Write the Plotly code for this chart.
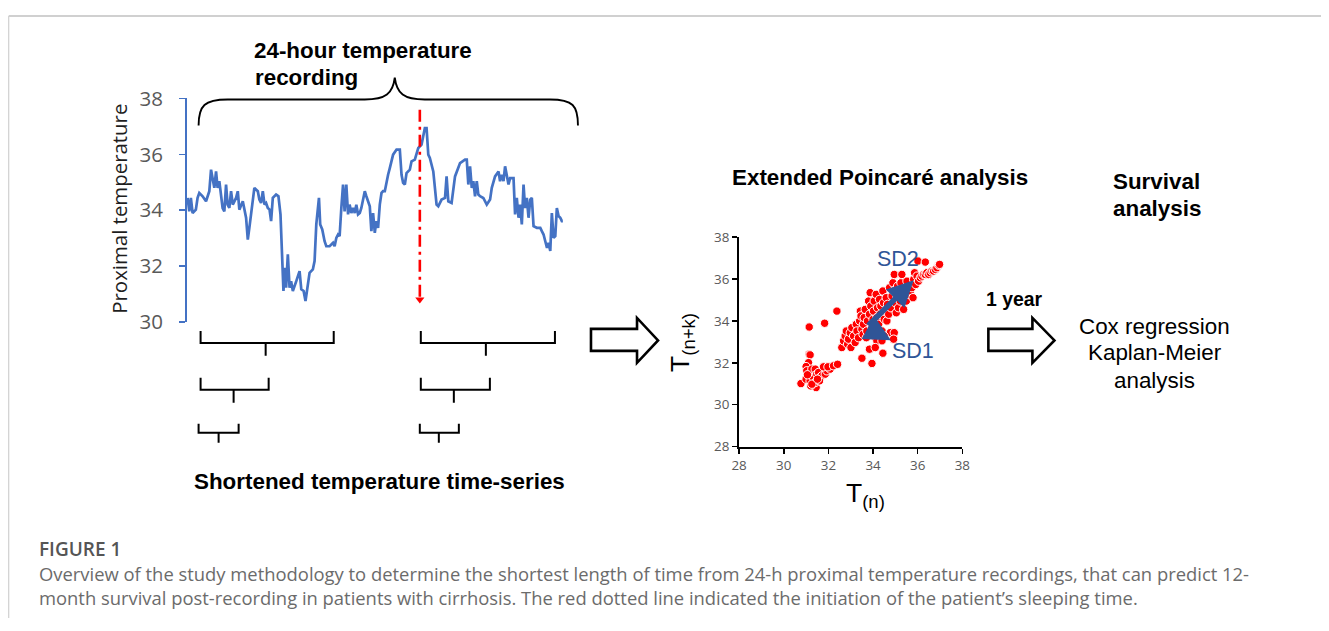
import plotly.graph_objects as go

W, H = 1329, 631
# where the figure's edges land in the captured picture (measured, page margin removed)
CX0, CX1 = 8.6, 1320.3
CY0, CY1 = 13.3, 617.8

# ---------------- 24-hour proximal temperature recording ----------------
hours = [0.00, 0.11, 0.21, 0.32, 0.53, 0.64, 0.75, 0.96, 1.18, 1.39, 1.50, 1.60, 1.71, 1.82, 1.92,
         2.03, 2.14, 2.24, 2.35, 2.46, 2.56, 2.67, 2.78, 2.89, 3.10, 3.21, 3.31, 3.53, 3.74, 3.85,
         3.95, 4.17, 4.27, 4.49, 4.59, 4.70, 4.81, 4.92, 5.02, 5.13, 5.24, 5.34, 5.45, 5.66, 5.81,
         5.94, 6.05, 6.13, 6.22, 6.30, 6.41, 6.52, 6.62, 6.73, 6.95, 7.16, 7.27, 7.42, 7.54, 7.69,
         7.80, 8.01, 8.12, 8.23, 8.33, 8.40, 8.48, 8.61, 8.76, 8.87, 9.08, 9.30, 9.40, 9.51, 9.62,
         9.72, 9.83, 9.94, 10.04, 10.15, 10.26, 10.36, 10.47, 10.58, 10.69, 10.79, 10.90, 11.01,
         11.11, 11.22, 11.33, 11.43, 11.65, 11.75, 11.86, 11.97, 12.07, 12.18, 12.29, 12.40, 12.50,
         12.61, 12.72, 12.82, 12.93, 13.04, 13.14, 13.36, 13.57, 13.68, 13.78, 13.89, 14.00, 14.21,
         14.32, 14.53, 14.75, 14.96, 15.07, 15.17, 15.28, 15.39, 15.49, 15.71, 15.92, 16.03, 16.24,
         16.46, 16.56, 16.67, 16.88, 17.10, 17.42, 17.74, 17.85, 17.95, 18.06, 18.17, 18.27, 18.38,
         18.49, 18.59, 18.70, 18.91, 19.13, 19.34, 19.45, 19.66, 19.88, 19.98, 20.09, 20.20, 20.30,
         20.41, 20.52, 20.62, 20.84, 20.94, 21.05, 21.16, 21.26, 21.37, 21.48, 21.58, 21.69, 21.80,
         21.91, 22.01, 22.12, 22.33, 22.55, 22.65, 22.76, 22.87, 22.98, 23.08, 23.19, 23.29, 23.40,
         23.51, 23.61, 23.72, 23.83, 23.93, 24.00]
temp = [34.44, 33.96, 34.44, 33.90, 34.02, 34.44, 34.62, 34.50, 34.32, 34.68, 35.45, 35.15, 34.80, 35.39, 34.80,
        35.04, 34.56, 34.08, 33.96, 34.92, 34.20, 34.08, 34.68, 34.20, 34.44, 34.68, 34.02, 34.32, 33.73, 32.95,
        33.37, 34.32, 34.80, 34.68, 34.38, 34.26, 34.68, 34.20, 34.26, 34.08, 34.02, 33.61, 34.44, 34.56, 34.50,
        33.85, 32.42, 31.11, 31.94, 31.23, 32.42, 31.23, 31.46, 31.11, 31.46, 31.82, 31.17, 31.11, 30.75, 31.46,
        31.76, 31.88, 32.18, 33.49, 33.96, 34.44, 33.49, 33.31, 32.89, 32.71, 32.71, 32.83, 32.71, 33.01, 33.13,
        33.07, 34.08, 34.92, 33.96, 34.92, 33.85, 34.20, 33.90, 34.08, 33.90, 34.20, 33.85, 33.90,
        34.08, 34.44, 34.68, 34.50, 34.14, 33.25, 33.90, 33.19, 33.61, 33.37, 34.20, 34.62, 34.68,
        34.68, 35.04, 35.27, 35.51, 35.75, 35.99, 36.17, 36.17, 35.27, 34.98, 34.92, 35.33, 35.45,
        35.75, 35.81, 36.23, 36.35, 36.70, 36.94, 36.94, 35.99, 35.87, 35.39, 34.20, 34.14, 34.38,
        34.44, 35.21, 34.32, 34.26, 35.21, 35.69, 35.81, 35.81, 34.92, 35.57, 34.80, 35.04, 34.50,
        35.04, 34.56, 34.50, 34.44, 34.20, 34.38, 34.80, 35.21, 35.39, 35.04, 35.27, 35.04, 35.57,
        35.27, 34.92, 35.15, 35.15, 33.85, 34.44, 33.73, 34.20, 33.49, 34.92, 34.08, 34.44, 33.73,
        34.38, 34.44, 33.43, 33.37, 33.37, 33.25, 33.13, 32.89, 32.65, 32.83, 32.54, 33.90, 33.01,
        33.07, 34.08, 33.79, 33.73, 33.61, 33.61]
sleep_onset_h = 14.85
sleep_marker_temps = [37.60, 30.80]
temp_ticks = [30, 32, 34, 36, 38]

# ---------------- Extended Poincaré plot ----------------
t_n = [30.77, 31.14, 31.14, 31.18, 31.11, 31.00, 31.03, 31.26, 31.41, 31.00, 31.18, 31.33, 31.48, 31.56,
       31.63, 31.71, 31.86, 31.93, 32.08, 31.78, 31.98, 32.23, 32.41, 31.45, 31.21, 31.41, 31.26, 31.60,
       31.06, 31.51, 31.83, 32.38,
       32.60, 32.68, 32.75, 32.80, 32.86, 32.90, 32.98, 33.01, 33.05, 33.13, 33.20, 33.25, 33.28, 33.35,
       33.40, 33.43, 33.46, 33.50, 33.55, 33.57, 33.60, 33.65, 33.70, 33.72, 33.75, 33.80, 33.84, 33.87,
       33.90, 33.95, 34.00, 34.02, 34.05, 34.10, 34.14, 34.17, 34.20, 34.25, 34.29, 34.32, 34.35, 34.40,
       34.44, 34.47, 34.50, 34.55, 34.59, 34.62, 34.65, 34.70, 34.74, 34.77, 34.80, 34.85, 34.89, 34.92,
       34.95, 35.00, 35.04, 35.07, 35.10, 35.14, 35.19, 35.22, 35.25, 35.29, 35.34, 35.37, 35.44, 35.49,
       35.52, 35.59, 35.67, 35.74, 35.79, 35.82, 35.86, 35.91, 35.97, 36.04, 36.12, 36.19, 36.27, 36.34,
       36.41, 36.49, 36.56, 36.64, 36.71, 36.79, 36.86, 36.94, 36.98, 36.01, 36.34,
       33.50, 33.95, 34.44, 33.84, 34.17, 34.50, 34.95, 34.92, 34.10, 34.40]
t_nk = [31.01, 33.71, 32.41, 32.38, 32.01, 31.82, 31.62, 31.70, 31.70, 31.22, 31.14, 31.30, 31.46, 31.54,
        31.30, 31.38, 31.46, 31.62, 31.70, 31.81, 31.81, 31.86, 31.93, 30.82, 30.90, 31.06, 30.98, 31.14,
        31.43, 31.22, 33.89, 34.47,
        32.73, 33.05, 33.28, 33.52, 32.89, 33.13, 33.44, 32.73, 33.68, 33.28, 32.97, 33.84, 33.52, 33.20,
        34.00, 34.47, 34.24, 33.60, 33.36, 33.84, 34.16, 34.55, 33.20, 33.52, 34.00, 34.95, 34.32, 35.35,
        34.71, 33.68, 34.08, 34.47, 34.95, 33.20, 35.27, 34.16, 34.63, 33.84, 35.03, 34.32, 34.71, 33.52,
        35.43, 34.87, 34.08, 34.47, 35.11, 34.00, 34.79, 34.32, 35.59, 33.44, 34.63, 35.19, 35.82, 35.43,
        36.22, 34.87, 34.39, 35.11, 35.66, 34.63, 35.35, 34.95, 35.82, 36.22, 35.27, 34.55, 35.59, 34.95,
        35.90, 35.27, 35.43, 35.59, 35.11, 35.98, 36.30, 35.74, 36.14, 35.90, 36.06, 36.14, 36.22, 36.22,
        36.30, 36.22, 36.30, 36.38, 36.38, 36.46, 36.54, 36.66, 36.70, 36.86, 36.81,
        32.22, 31.97, 32.46, 32.65, 33.05, 33.28, 33.44, 33.13, 32.73, 33.05]
poincare_ticks = [28, 30, 32, 34, 36, 38]
sd_origin = [33.72, 33.71]
sd2_tip = [35.82, 35.94]
sd1_tip = [34.80, 33.08]

# ---------------- Texts ----------------
caption_title = "FIGURE 1"
caption_lines = [
    "Overview of the study methodology to determine the shortest length of time from 24-h proximal temperature recordings, that can predict 12-",
    "month survival post-recording in patients with cirrhosis. The red dotted line indicated the initiation of the patient\u2019s sleeping time.",
]

BLUE = "#4472C4"
SDBLUE = "#2F5597"
ARIAL = "Liberation Sans, Arial, sans-serif"
OPEN = "Open Sans, sans-serif"


def xdom(a, b):
    return [(a - CX0) / (CX1 - CX0), (b - CX0) / (CX1 - CX0)]


def ydom(top, bottom):
    return [1 - (bottom - CY0) / (CY1 - CY0), 1 - (top - CY0) / (CY1 - CY0)]


fig = go.Figure()
fig.add_trace(go.Scatter(x=hours, y=temp, mode="lines", line=dict(color=BLUE, width=2.7),
                         xaxis="x", yaxis="y", showlegend=False, hoverinfo="skip"))
fig.add_trace(go.Scatter(x=[sleep_onset_h, sleep_onset_h], y=sleep_marker_temps, mode="lines",
                         line=dict(color="#FF0000", width=2.6, dash="12px,5px,3px,5px"),
                         xaxis="x", yaxis="y", showlegend=False, hoverinfo="skip"))
fig.add_trace(go.Scatter(x=[sleep_onset_h], y=[sleep_marker_temps[1]], mode="markers",
                         marker=dict(symbol="triangle-down", size=8, color="#FF0000"),
                         xaxis="x", yaxis="y", showlegend=False, hoverinfo="skip", cliponaxis=False))
fig.add_trace(go.Scatter(x=t_n, y=t_nk, mode="markers",
                         marker=dict(color="#FF0000", size=8.4, line=dict(color="white", width=1)),
                         xaxis="x2", yaxis="y2", showlegend=False, hoverinfo="skip", cliponaxis=False))
fig.add_trace(go.Scatter(x=[], y=[], xaxis="x3", yaxis="y3", showlegend=False))


# -------- diagram geometry (picture-pixel overlay axes x3/y3) --------
def path(d, width=2.0, color="black", fill=None):
    s = dict(type="path", path=d, xref="x3", yref="y3", layer="above",
             line=dict(color=color, width=width))
    if fill:
        s["fillcolor"] = fill
    return s


shapes = [
    # page frame
    dict(type="line", xref="x3", yref="y3", x0=9.5, x1=CX1, y0=14.3, y1=14.3,
         line=dict(color="#d0d0d0", width=2), layer="above"),
    dict(type="line", xref="x3", yref="y3", x0=9.3, x1=9.3, y0=14, y1=CY1,
         line=dict(color="#d0d0d0", width=1.2), layer="above"),
    # curly brace
    path("M 199,124 C 199,104 205,98 228,98 L 365,98 C 386,98 393,92 395,76 "
         "C 397,92 404,98 425,98 L 550,98 C 573,98 578,104 578,124", width=1.9),
    # shortened time-series brackets
    path("M 201,330 L 201,342 L 334,342 L 334,330 M 266,342 L 266,355"),
    path("M 421,330 L 421,342 L 555,342 L 555,330 M 486,342 L 486,355"),
    path("M 201,377 L 201,389 L 269,389 L 269,377 M 234,389 L 234,402"),
    path("M 421,377 L 421,389 L 490,389 L 490,377 M 454,389 L 454,402"),
    path("M 199,423 L 199,432 L 239,432 L 239,423 M 219,432 L 219,442"),
    path("M 420,423 L 420,432 L 459,432 L 459,423 M 439,432 L 439,442"),
    # hollow arrows
    path("M 591,328 L 637,328 L 637,317 L 658,339.5 L 637,362 L 637,350 L 591,350 Z", width=2.6, fill="white"),
    path("M 988,328 L 1032,328 L 1032,317 L 1054,339.5 L 1032,362 L 1032,350 L 988,350 Z", width=2.6, fill="white"),
]


def txt(x, y, s, size, color="black", family=ARIAL, xanchor="center", angle=0, weight=None):
    f = dict(family=family, size=size, color=color)
    if weight:
        f["weight"] = weight
    return dict(xref="x3", yref="y3", x=x, y=y, text=s, showarrow=False, textangle=angle,
                font=f, xanchor=xanchor, yanchor="middle")


annotations = [
    txt(363, 49, "<b>24-hour temperature</b>", 22.4),
    txt(307, 76, "<b>recording</b>", 22.4),
    txt(120, 208, "Proximal temperature", 20.4, color="#1e1e1e", family=OPEN, angle=-90),
    txt(380, 481, "<b>Shortened temperature time-series</b>", 22.4),
    txt(880, 176, "<b>Extended Poincaré analysis</b>", 22.4),
    txt(1156, 180, "<b>Survival</b>", 22.4),
    txt(1156, 207, "<b>analysis</b>", 22.4),
    txt(1014, 298, "<b>1 year</b>", 19.4),
    txt(1154, 326, "Cox regression", 22.4),
    txt(1154, 352, "Kaplan-Meier", 22.4),
    txt(1154, 380, "analysis", 22.4),
    txt(898, 258, "SD2", 21.5, color=SDBLUE),
    txt(913, 350, "SD1", 21.5, color=SDBLUE),
    txt(865, 494, "T<sub>(n)</sub>", 26.5),
    txt(682, 342, "T<sub>(n+k)</sub>", 26.5, angle=-90),
    txt(38, 549, caption_title, 19, color="#555555", family=OPEN, xanchor="left", weight=600),
]
for i, line in enumerate(caption_lines):
    annotations.append(txt(38, 573 + 24.5 * i, line, 18.4, color="#6b6b6b", family=OPEN, xanchor="left"))

# SD arrows
for tip in (sd2_tip, sd1_tip):
    annotations.append(dict(xref="x2", yref="y2", axref="x2", ayref="y2", x=tip[0], y=tip[1],
                            ax=sd_origin[0], ay=sd_origin[1], text="", showarrow=True,
                            arrowhead=2, arrowsize=0.95, arrowwidth=5.5, arrowcolor=SDBLUE, standoff=0))

axis_common = dict(showgrid=False, zeroline=False, fixedrange=True)
fig.update_layout(
    width=W, height=H, margin=dict(l=0, r=0, t=0, b=0),
    paper_bgcolor="white", plot_bgcolor="rgba(0,0,0,0)", showlegend=False,
    xaxis=dict(domain=xdom(187, 563), range=[-0.064, 24], visible=False, anchor="y", **axis_common),
    yaxis=dict(domain=ydom(97, 321), range=[30, 38], tickvals=temp_ticks, anchor="x",
               showline=True, linecolor=BLUE, linewidth=1.5, ticks="outside", ticklen=6, tickwidth=1.5,
               tickcolor=BLUE, ticklabelstandoff=12,
               tickfont=dict(family=OPEN, size=20.5, color="#595959"), **axis_common),
    xaxis2=dict(domain=xdom(739, 962), range=[28, 38], tickvals=poincare_ticks, anchor="y2",
                showline=True, linecolor="black", linewidth=2, ticks="outside", ticklen=5, tickwidth=1.5,
                tickcolor="black", tickfont=dict(family=OPEN, size=13.4, color="#595959"), **axis_common),
    yaxis2=dict(domain=ydom(236, 446), range=[28, 38], tickvals=poincare_ticks, anchor="x2",
                showline=True, linecolor="black", linewidth=2, ticks="outside", ticklen=5, tickwidth=1.5,
                tickcolor="black", tickfont=dict(family=OPEN, size=13.4, color="#595959"), **axis_common),
    xaxis3=dict(domain=[0, 1], range=[CX0, CX1], visible=False, anchor="y3", **axis_common),
    yaxis3=dict(domain=[0, 1], range=[CY1, CY0], visible=False, anchor="x3", **axis_common),
    shapes=shapes, annotations=annotations,
)

post = ("document.body.style.margin='0';document.body.style.overflow='hidden';"
        "document.documentElement.style.overflow='hidden';")
fig.write_html("out.html", config={"displayModeBar": False, "staticPlot": True}, post_script=post)
